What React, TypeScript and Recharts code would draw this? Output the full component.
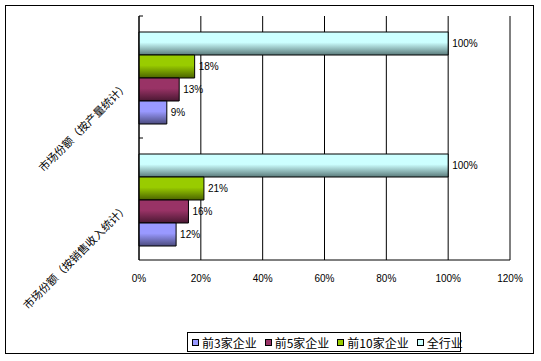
import React from 'react';
import { BarChart, Bar, XAxis, YAxis, CartesianGrid, LabelList } from 'recharts';

const categories = ['市场份额（按产量统计）', '市场份额（按销售收入统计）'];
const top3 = [9, 12];
const top5 = [13, 16];
const top10 = [18, 21];
const industry = [100, 100];
const xTicks = [0, 20, 40, 60, 80, 100, 120];

const seriesNames = ['前3家企业', '前5家企业', '前10家企业', '全行业'];
const seriesKeys = ['top3', 'top5', 'top10', 'industry'];
const seriesColors = ['#9999ff', '#993366', '#99cc00', '#ccffff'];
const seriesDark = ['#4b4b7e', '#4a1832', '#4a6300', '#5a7a7a'];

const data = categories.map((c, i) => ({
  category: c,
  top3: top3[i],
  top5: top5[i],
  top10: top10[i],
  industry: industry[i],
}));

const W = 541;
const H = 361;
const MARGIN = { top: 16, right: 31, bottom: 71, left: 0 };
const YAXIS_W = 139;
const XAXIS_H = 30;
const PLOT_H = H - MARGIN.top - MARGIN.bottom - XAXIS_H;
const BAND_HALF = PLOT_H / categories.length / 2;
const AXIS_X = MARGIN.left + YAXIS_W;

const YTick = (props: any) => {
  const { x, y, payload } = props;
  return (
    <g>
      <line x1={AXIS_X} x2={AXIS_X + 4} y1={y - BAND_HALF} y2={y - BAND_HALF} stroke="#000" strokeWidth={1} />
      <text
        transform={`translate(${x - 10},${y + 10}) rotate(-45)`}
        textAnchor="end"
        fontSize={11}
        fontFamily="'Noto Sans CJK SC'"
        fill="#000"
      >
        {payload.value}
      </text>
    </g>
  );
};

const pct = (v: any) => `${v}%`;

export default function App() {
  const order = [3, 2, 1, 0];
  return (
    <div style={{ position: 'absolute', left: 0, top: 0, width: W, height: H, background: '#fff' }}>
      <div
        style={{
          position: 'absolute',
          left: 5,
          top: 5,
          width: 529,
          height: 349,
          border: '1px solid #000',
          boxSizing: 'border-box',
        }}
      />
      <div style={{ position: 'absolute', left: 0, top: 0 }}>
        <BarChart
          width={W}
          height={H}
          data={data}
          layout="vertical"
          margin={MARGIN}
          barCategoryGap={16}
          barGap={0}
        >
          <defs>
            {seriesKeys.map((k, i) => (
              <linearGradient key={k} id={`grad-${k}`} x1="0" y1="0" x2="0" y2="1">
                <stop offset="0%" stopColor={seriesColors[i]} />
                <stop offset="45%" stopColor={seriesColors[i]} />
                <stop offset="100%" stopColor={seriesDark[i]} />
              </linearGradient>
            ))}
          </defs>
          <CartesianGrid horizontal={false} vertical={true} stroke="#000" strokeWidth={1} />
          <XAxis
            type="number"
            domain={[0, 120]}
            ticks={xTicks}
            tickFormatter={pct}
            axisLine={{ stroke: '#000' }}
            tickLine={false}
            tickSize={0}
            tickMargin={15}
            height={XAXIS_H}
            tick={{ fill: '#000', fontSize: 10, fontFamily: "'Liberation Sans', Arial, sans-serif" }}
            interval={0}
          />
          <YAxis
            type="category"
            dataKey="category"
            width={YAXIS_W}
            axisLine={{ stroke: '#000' }}
            tickLine={false}
            tickSize={0}
            tickMargin={0}
            tick={<YTick />}
            interval={0}
          />
          {order.map((i) => (
            <Bar
              key={seriesKeys[i]}
              dataKey={seriesKeys[i]}
              name={seriesNames[i]}
              fill={`url(#grad-${seriesKeys[i]})`}
              stroke="#000"
              strokeWidth={1}
              isAnimationActive={false}
            >
              <LabelList
                dataKey={seriesKeys[i]}
                position="right"
                offset={4}
                formatter={pct}
                fill="#000"
                fontSize={10}
                fontFamily="'Liberation Sans', Arial, sans-serif"
              />
            </Bar>
          ))}
        </BarChart>
      </div>
      <div
        style={{
          position: 'absolute',
          left: 187,
          top: 332,
          width: 274,
          height: 20,
          border: '1px solid #000',
          boxSizing: 'border-box',
          display: 'flex',
          alignItems: 'center',
          paddingLeft: 4,
          fontSize: 12,
          fontFamily: "'Noto Sans CJK SC', sans-serif",
          color: '#000',
          whiteSpace: 'nowrap',
        }}
      >
        {seriesNames.map((n, i) => (
          <div key={n} style={{ display: 'flex', alignItems: 'center', marginRight: 8 }}>
            <span
              style={{
                display: 'inline-block',
                width: 7,
                height: 7,
                background: seriesColors[i],
                border: '1px solid #000',
                boxSizing: 'border-box',
                marginRight: 3,
              }}
            />
            <span>{n}</span>
          </div>
        ))}
      </div>
    </div>
  );
}
